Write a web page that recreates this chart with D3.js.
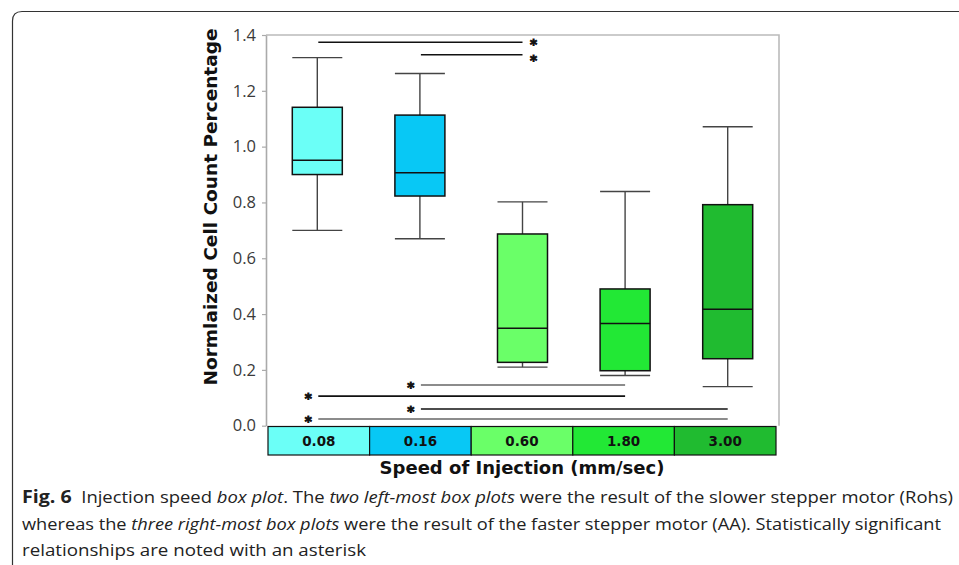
<!DOCTYPE html>
<html lang="en">
<head>
    <meta charset="UTF-8">
    <title>Injection speed box plot</title>
    <script src="https://cdn.jsdelivr.net/npm/d3@7"></script>
    <style>
        body { margin: 0; background: #fff; }
        svg { display: block; }
        .tick text { font-family: "Open Sans", sans-serif; font-size: 16.5px; fill: #3a3a3a; }
        .bold-label { font-family: "DejaVu Sans", sans-serif; font-weight: bold; fill: #111; }
        .star { stroke: #111; stroke-width: 0.9px; }
        .caption { font-family: "Open Sans", sans-serif; font-size: 16px; fill: #222; }
    </style>
</head>
<body>
<svg id="chart" width="959" height="565"></svg>
<script>
    // data
    const speeds = ["0.08", "0.16", "0.60", "1.80", "3.00"];
    const whiskerLow = [0.70, 0.67, 0.21, 0.18, 0.14];
    const q1 = [0.900, 0.823, 0.227, 0.197, 0.240];
    const median = [0.951, 0.906, 0.349, 0.366, 0.417];
    const q3 = [1.141, 1.113, 0.687, 0.490, 0.792];
    const whiskerHigh = [1.319, 1.262, 0.802, 0.839, 1.071];
    const boxColors = ["#6bfff7", "#08c8f5", "#6aff68", "#22e835", "#20bb30"];
    const yTicks = [0, 0.2, 0.4, 0.6, 0.8, 1.0, 1.2, 1.4];

    // significance bars: from group, to group, level
    const sigFrom = ["0.08", "0.16", "0.16", "0.08", "0.16", "0.08"];
    const sigTo = ["0.60", "0.60", "1.80", "1.80", "3.00", "3.00"];
    const sigLevel = [1.374, 1.329, 0.146, 0.106, 0.060, 0.024];

    const svg = d3.select("#chart");

    // outer frame of the figure panel
    svg.append("path")
        .attr("d", "M12.5,565 L12.5,21 Q12.5,11.5 22,11.5 L959,11.5")
        .attr("fill", "none")
        .attr("stroke", "#333")
        .attr("stroke-width", 1.2);

    const plotLeft = 266, plotRight = 779, plotTop = 35, plotBottom = 425.7;

    const x = d3.scaleBand().domain(speeds).range([plotLeft, plotRight]);
    const y = d3.scaleLinear().domain([0, 1.4]).range([plotBottom, plotTop]);
    const boxW = 50;

    // frame top & right
    svg.append("path")
        .attr("d", `M${plotLeft},${plotTop} L${plotRight},${plotTop} L${plotRight},${plotBottom}`)
        .attr("fill", "none")
        .attr("stroke", "#bbb")
        .attr("stroke-width", 1.6);

    // y axis
    const yAxis = svg.append("g")
        .attr("transform", `translate(${plotLeft},0)`)
        .call(d3.axisLeft(y).tickValues(yTicks).tickSize(4).tickSizeOuter(0).tickPadding(6)
            .tickFormat(d3.format(".1f")));
    yAxis.select(".domain").attr("stroke", "#aaa").attr("stroke-width", 1.6);
    yAxis.selectAll(".tick line").attr("stroke", "#aaa").attr("stroke-width", 1.2);

    const rows = speeds.map((s, i) => ({
        s, lo: whiskerLow[i], q1: q1[i], med: median[i], q3: q3[i], hi: whiskerHigh[i], c: boxColors[i]
    }));

    const g = svg.append("g");
    const cx = d => x(d.s) + x.bandwidth() / 2;

    // whiskers
    g.selectAll(".whisker-up").data(rows).enter().append("line")
        .attr("x1", cx).attr("x2", cx)
        .attr("y1", d => y(d.q3)).attr("y2", d => y(d.hi))
        .attr("stroke", "#444").attr("stroke-width", 1.4);
    g.selectAll(".whisker-down").data(rows).enter().append("line")
        .attr("x1", cx).attr("x2", cx)
        .attr("y1", d => y(d.q1)).attr("y2", d => y(d.lo))
        .attr("stroke", "#444").attr("stroke-width", 1.4);
    g.selectAll(".cap-hi").data(rows).enter().append("line")
        .attr("x1", d => cx(d) - boxW / 2).attr("x2", d => cx(d) + boxW / 2)
        .attr("y1", d => y(d.hi)).attr("y2", d => y(d.hi))
        .attr("stroke", "#444").attr("stroke-width", 1.4);
    g.selectAll(".cap-lo").data(rows).enter().append("line")
        .attr("x1", d => cx(d) - boxW / 2).attr("x2", d => cx(d) + boxW / 2)
        .attr("y1", d => y(d.lo)).attr("y2", d => y(d.lo))
        .attr("stroke", "#444").attr("stroke-width", 1.4);

    // boxes
    g.selectAll(".box").data(rows).enter().append("rect")
        .attr("x", d => cx(d) - boxW / 2)
        .attr("width", boxW)
        .attr("y", d => y(d.q3))
        .attr("height", d => y(d.q1) - y(d.q3))
        .attr("fill", d => d.c)
        .attr("stroke", "#111")
        .attr("stroke-width", 1.5);
    g.selectAll(".med").data(rows).enter().append("line")
        .attr("x1", d => cx(d) - boxW / 2).attr("x2", d => cx(d) + boxW / 2)
        .attr("y1", d => y(d.med)).attr("y2", d => y(d.med))
        .attr("stroke", "#111").attr("stroke-width", 1.5);

    // significance bars
    const sig = sigFrom.map((f, i) => ({ f, t: sigTo[i], v: sigLevel[i], top: sigLevel[i] > 1 }));
    const center = s => x(s) + x.bandwidth() / 2;
    svg.selectAll(".sig").data(sig).enter().append("line")
        .attr("x1", d => center(d.f) + 1).attr("x2", d => center(d.t))
        .attr("y1", d => y(d.v)).attr("y2", d => y(d.v))
        .attr("stroke", (d, i) => (i === 2 || i === 5) ? "#666" : "#111")
        .attr("stroke-width", 1.6);
    svg.selectAll(".star").data(sig).enter().append("text")
        .attr("class", "bold-label star")
        .attr("font-size", 13.5)
        .attr("text-anchor", "middle")
        .attr("x", d => d.top ? center(d.t) + 11 : center(d.f) - 9)
        .attr("y", (d, i) => y(d.v) + (i === 1 ? 10.5 : 7))
        .text("*");

    // speed strip under the plot
    const xs = d3.scaleBand().domain(speeds).range([268, 776]);
    const strip = svg.append("g");
    strip.selectAll("rect").data(rows).enter().append("rect")
        .attr("x", d => xs(d.s))
        .attr("y", 426.5)
        .attr("width", xs.bandwidth())
        .attr("height", 28.5)
        .attr("fill", d => d.c)
        .attr("stroke", "#111")
        .attr("stroke-width", 1.2);
    strip.selectAll("text").data(rows).enter().append("text")
        .attr("class", "bold-label")
        .attr("font-size", 13.5)
        .attr("text-anchor", "middle")
        .attr("x", d => xs(d.s) + xs.bandwidth() / 2)
        .attr("y", 446)
        .text(d => d.s);

    // axis titles
    svg.append("text")
        .attr("class", "bold-label")
        .attr("font-size", 18)
        .attr("text-anchor", "middle")
        .attr("x", 522)
        .attr("y", 474)
        .text("Speed of Injection (mm/sec)");
    svg.append("text")
        .attr("class", "bold-label")
        .attr("font-size", 18.5)
        .attr("text-anchor", "middle")
        .attr("transform", "translate(217,207) rotate(-90)")
        .text("Normlaized Cell Count Percentage");

    // figure caption
    const captionLines = [
        [["Fig. 6", "b"], ["  Injection speed ", "n"], ["box plot", "i"], [". The ", "n"], ["two left-most box plots", "i"],
         [" were the result of the slower stepper motor (Rohs)", "n"]],
        [["whereas the ", "n"], ["three right-most box plots", "i"],
         [" were the result of the faster stepper motor (AA). Statistically significant", "n"]],
        [["relationships are noted with an asterisk", "n"]]
    ];
    const captionWidths = [931, 919, 344];
    const captionY = [503, 530, 556];
    captionLines.forEach((parts, i) => {
        const t = svg.append("text")
            .attr("class", "caption")
            .attr("x", 22)
            .attr("y", captionY[i])
            .attr("xml:space", "preserve")
            .attr("textLength", captionWidths[i])
            .attr("lengthAdjust", "spacingAndGlyphs");
        parts.forEach(p => {
            t.append("tspan")
                .attr("font-weight", p[1] === "b" ? "bold" : null)
                .attr("font-style", p[1] === "i" ? "italic" : null)
                .attr("font-size", p[1] === "b" ? 17 : null)
                .text(p[0]);
        });
    });
</script>
</body>
</html>
